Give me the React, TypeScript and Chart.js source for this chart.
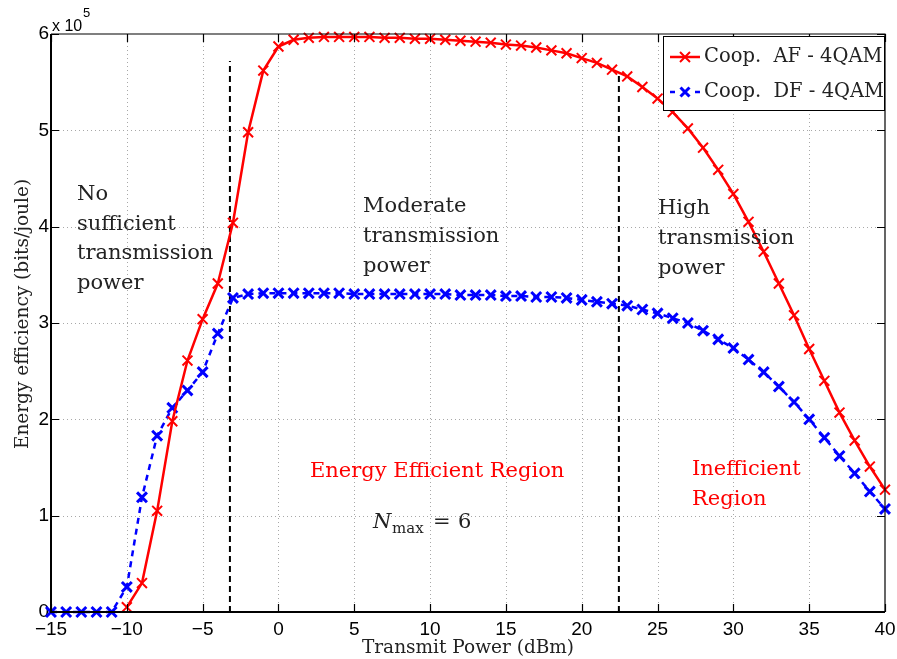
import React, { useEffect, useRef } from 'react';
import { Chart, registerables } from 'chart.js';

Chart.register(...registerables);

// Transmit power (dBm)
const xValues = [
  -15, -14, -13, -12, -11, -10, -9, -8, -7, -6, -5, -4, -3, -2, -1, 0,
  1, 2, 3, 4, 5, 6, 7, 8, 9, 10, 11, 12, 13, 14, 15, 16, 17, 18, 19, 20,
  21, 22, 23, 24, 25, 26, 27, 28, 29, 30, 31, 32, 33, 34, 35, 36, 37, 38, 39, 40,
];

// Energy efficiency (x 10^5 bits/joule)
const afValues = [
  null, null, null, null, null, 0.05, 0.30, 1.05, 1.98, 2.61, 3.04, 3.41, 4.04, 4.98, 5.62, 5.87,
  5.94, 5.96, 5.97, 5.97, 5.97, 5.97, 5.96, 5.96, 5.95, 5.95, 5.94, 5.93, 5.92, 5.91, 5.89, 5.88,
  5.86, 5.83, 5.80, 5.75, 5.70, 5.63, 5.56, 5.45, 5.33, 5.19, 5.02, 4.82, 4.59, 4.34, 4.05, 3.74,
  3.41, 3.08, 2.73, 2.40, 2.07, 1.78, 1.51, 1.27,
];

const dfValues = [
  0, 0, 0, 0, 0, 0.26, 1.19, 1.83, 2.12, 2.30, 2.49, 2.89, 3.26, 3.30, 3.31, 3.31,
  3.31, 3.31, 3.31, 3.31, 3.30, 3.30, 3.30, 3.30, 3.30, 3.30, 3.30, 3.29, 3.29, 3.29, 3.28, 3.28,
  3.27, 3.27, 3.26, 3.24, 3.22, 3.20, 3.18, 3.14, 3.10, 3.05, 3.00, 2.92, 2.83, 2.74, 2.62, 2.49,
  2.34, 2.18, 2.00, 1.81, 1.62, 1.44, 1.25, 1.07,
];

const xTicks = [-15, -10, -5, 0, 5, 10, 15, 20, 25, 30, 35, 40];
const yTicks = [0, 1, 2, 3, 4, 5, 6];

// Region boundaries (dBm) and their heights
const boundaryX = [-3.2, 22.45];
const boundaryTop = [5.72, 5.58];

const seriesLabels = ['Coop.  AF - 4QAM', 'Coop.  DF - 4QAM'];

const SERIF = '"DejaVu Serif", serif';
const SANS = '"Liberation Sans", Arial, sans-serif';
const TEXT = '#222';

function drawCross(ctx: CanvasRenderingContext2D, cx: number, cy: number, h: number) {
  ctx.beginPath();
  ctx.moveTo(cx - h, cy - h);
  ctx.lineTo(cx + h, cy + h);
  ctx.moveTo(cx - h, cy + h);
  ctx.lineTo(cx + h, cy - h);
  ctx.stroke();
}

const overlayPlugin = {
  id: 'overlay',
  beforeDatasetsDraw(chart: any) {
    const { ctx, chartArea, scales } = chart;
    const { left, right, top, bottom } = chartArea;
    ctx.save();
    ctx.strokeStyle = '#a8a8a8';
    ctx.lineWidth = 1;
    ctx.setLineDash([1, 3]);
    xTicks.forEach((v) => {
      if (v === xTicks[0] || v === xTicks[xTicks.length - 1]) return;
      const px = Math.round(scales.x.getPixelForValue(v)) + 0.5;
      ctx.beginPath();
      ctx.moveTo(px, top);
      ctx.lineTo(px, bottom);
      ctx.stroke();
    });
    yTicks.forEach((v) => {
      if (v === yTicks[0] || v === yTicks[yTicks.length - 1]) return;
      const py = Math.round(scales.y.getPixelForValue(v)) + 0.5;
      ctx.beginPath();
      ctx.moveTo(left, py);
      ctx.lineTo(right, py);
      ctx.stroke();
    });
    ctx.restore();
  },
  afterDatasetsDraw(chart: any) {
    const { ctx, chartArea, scales } = chart;
    const { left, right, top, bottom } = chartArea;
    ctx.save();
    ctx.setLineDash([]);
    ctx.strokeStyle = '#000';

    // box
    ctx.lineWidth = 1.2;
    ctx.beginPath();
    ctx.moveTo(left, top);
    ctx.lineTo(right, top);
    ctx.lineTo(right, bottom);
    ctx.stroke();
    ctx.lineWidth = 2;
    ctx.beginPath();
    ctx.moveTo(left, top);
    ctx.lineTo(left, bottom);
    ctx.lineTo(right, bottom);
    ctx.stroke();

    // inward ticks
    ctx.lineWidth = 1.2;
    const tl = 8;
    xTicks.forEach((v) => {
      const px = Math.round(scales.x.getPixelForValue(v)) + 0.5;
      ctx.beginPath();
      ctx.moveTo(px, bottom);
      ctx.lineTo(px, bottom - tl);
      ctx.moveTo(px, top);
      ctx.lineTo(px, top + tl);
      ctx.stroke();
    });
    yTicks.forEach((v) => {
      const py = Math.round(scales.y.getPixelForValue(v)) + 0.5;
      ctx.beginPath();
      ctx.moveTo(left, py);
      ctx.lineTo(left + tl, py);
      ctx.moveTo(right, py);
      ctx.lineTo(right - tl, py);
      ctx.stroke();
    });

    // annotations
    ctx.textAlign = 'left';
    ctx.textBaseline = 'alphabetic';
    ctx.fillStyle = TEXT;
    ctx.font = `21px ${SERIF}`;
    const lines = (arr: string[], x: number, y0: number, dy: number) =>
      arr.forEach((s, i) => ctx.fillText(s, x, y0 + i * dy));
    lines(['No', 'sufficient', 'transmission', 'power'], 77, 200, 29.7);
    lines(['Moderate', 'transmission', 'power'], 363, 212, 30);
    lines(['High', 'transmission', 'power'], 658, 214, 30);

    ctx.fillStyle = '#ff0000';
    ctx.fillText('Energy Efficient Region', 310, 477);
    lines(['Inefficient', 'Region'], 692, 475, 29.5);

    ctx.fillStyle = TEXT;
    ctx.font = `italic 21px ${SERIF}`;
    ctx.fillText('N', 373, 528);
    ctx.font = `15px ${SERIF}`;
    ctx.fillText('max', 392, 533);
    ctx.font = `21px ${SERIF}`;
    ctx.fillText('=', 433, 528);
    ctx.fillText('6', 458, 528);

    // axis titles
    ctx.fillStyle = TEXT;
    ctx.font = `18.5px ${SERIF}`;
    ctx.textAlign = 'center';
    ctx.fillText('Transmit Power (dBm)', (left + right) / 2, 653);
    ctx.save();
    ctx.translate(28, (top + bottom) / 2 - 9);
    ctx.rotate(-Math.PI / 2);
    ctx.fillText('Energy efficiency (bits/joule)', 0, 0);
    ctx.restore();

    // exponent
    ctx.fillStyle = '#000';
    ctx.textAlign = 'left';
    ctx.font = `16px ${SANS}`;
    ctx.fillText('x 10', left + 1, 31);
    ctx.font = `13px ${SANS}`;
    ctx.fillText('5', left + 32, 17);

    // legend
    const lx = right - 222;
    const ly = top + 2;
    const lw = 222;
    const lh = 75;
    ctx.fillStyle = '#fff';
    ctx.fillRect(lx, ly, lw, lh);
    ctx.strokeStyle = '#000';
    ctx.lineWidth = 1;
    ctx.strokeRect(lx + 0.5, ly + 0.5, lw - 1, lh - 1);

    const rows = [ly + 21, ly + 56];
    // AF sample
    ctx.strokeStyle = '#ff0000';
    ctx.lineWidth = 2.5;
    ctx.beginPath();
    ctx.moveTo(lx + 7, rows[0]);
    ctx.lineTo(lx + 37, rows[0]);
    ctx.stroke();
    ctx.lineWidth = 2;
    drawCross(ctx, lx + 22, rows[0], 5);
    // DF sample
    ctx.strokeStyle = '#0000ff';
    ctx.lineWidth = 2.5;
    ctx.beginPath();
    ctx.moveTo(lx + 7, rows[1]);
    ctx.lineTo(lx + 12, rows[1]);
    ctx.moveTo(lx + 32, rows[1]);
    ctx.lineTo(lx + 37, rows[1]);
    ctx.stroke();
    ctx.lineWidth = 3;
    drawCross(ctx, lx + 22, rows[1], 4.5);

    ctx.fillStyle = TEXT;
    ctx.font = `19.5px ${SERIF}`;
    ctx.fillText(chart.data.datasets[0].label, lx + 41, rows[0] + 5);
    ctx.fillText(chart.data.datasets[1].label, lx + 41, rows[1] + 5);

    ctx.restore();
  },
};

export default function App() {
  const ref = useRef<HTMLCanvasElement>(null);

  useEffect(() => {
    const canvas = ref.current;
    if (!canvas) return;

    const afData = xValues.map((x, i) => ({ x, y: afValues[i] }));
    const dfData = xValues.map((x, i) => ({ x, y: dfValues[i] }));
    const boundarySets = boundaryX.map((bx, i) => ({
      label: 'boundary' + i,
      data: [
        { x: bx, y: 0 },
        { x: bx, y: boundaryTop[i] },
      ],
      borderColor: '#000',
      borderWidth: 2,
      borderDash: [6, 4],
      pointRadius: 0,
      tension: 0,
      order: 3,
      clip: false as any,
    }));

    const chart = new Chart(canvas, {
      type: 'line',
      data: {
        datasets: [
          {
            label: seriesLabels[0],
            data: afData as any,
            borderColor: '#ff0000',
            backgroundColor: '#ff0000',
            borderWidth: 2.5,
            pointStyle: 'crossRot',
            pointRadius: 7,
            pointBorderWidth: 2,
            pointBorderColor: '#ff0000',
            tension: 0,
            spanGaps: false,
            order: 1,
            clip: false as any,
          },
          {
            label: seriesLabels[1],
            data: dfData as any,
            borderColor: '#0000ff',
            backgroundColor: '#0000ff',
            borderWidth: 2.5,
            borderDash: [6, 5],
            pointStyle: 'crossRot',
            pointRadius: 7,
            pointBorderWidth: 3,
            pointBorderColor: '#0000ff',
            tension: 0,
            order: 2,
            clip: false as any,
          },
          ...(boundarySets as any[]),
        ],
      },
      options: {
        animation: false,
        responsive: false,
        devicePixelRatio: 1,
        layout: { padding: { left: 0, top: 34, right: 12, bottom: 0 } },
        plugins: {
          legend: { display: false },
          tooltip: { enabled: false },
        },
        scales: {
          x: {
            type: 'linear',
            min: -15,
            max: 40,
            afterBuildTicks: (scale: any) => {
              scale.ticks = xTicks.map((v) => ({ value: v }));
            },
            afterFit: (scale: any) => {
              scale.height = 47;
              scale.paddingLeft = 0;
              scale.paddingRight = 0;
            },
            grid: { display: false, drawTicks: false },
            border: { display: false },
            ticks: {
              padding: 6,
              color: '#000',
              font: { family: 'Liberation Sans', size: 19 },
              maxRotation: 0,
              autoSkip: false,
              callback: (v: any) => (Number(v) < 0 ? '\u2212' + Math.abs(Number(v)) : String(v)),
            },
          },
          y: {
            type: 'linear',
            min: 0,
            max: 6,
            afterBuildTicks: (scale: any) => {
              scale.ticks = yTicks.map((v) => ({ value: v }));
            },
            afterFit: (scale: any) => {
              scale.width = 51;
              scale.paddingTop = 0;
              scale.paddingBottom = 0;
            },
            grid: { display: false, drawTicks: false },
            border: { display: false },
            ticks: {
              padding: 2,
              color: '#000',
              font: { family: 'Liberation Sans', size: 19 },
              autoSkip: false,
              callback: (v: any) => String(v),
            },
          },
        },
      },
      plugins: [overlayPlugin],
    });

    return () => chart.destroy();
  }, []);

  return (
    <div style={{ position: 'absolute', left: 0, top: 0, width: 897, height: 659, background: '#fff' }}>
      <canvas ref={ref} width={897} height={659} style={{ display: 'block', width: 897, height: 659 }} />
    </div>
  );
}
